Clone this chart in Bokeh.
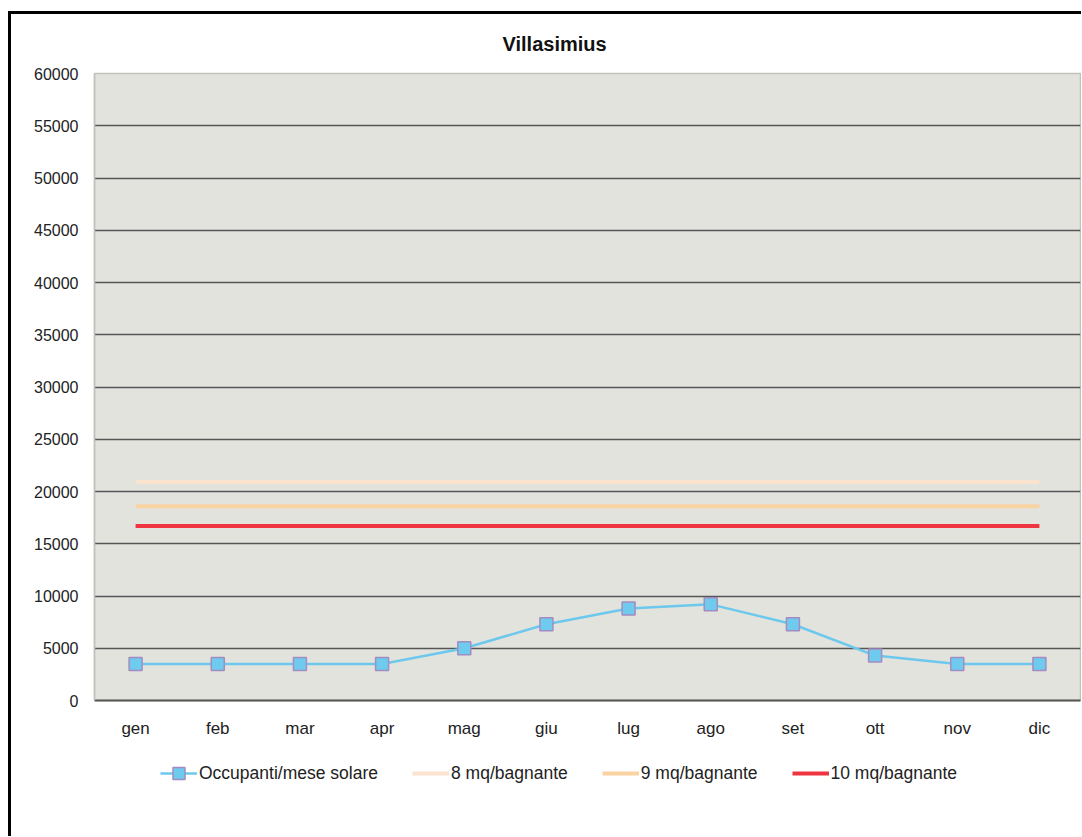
from bokeh.plotting import figure
from bokeh.models import FactorRange, Range1d, FixedTicker, Legend, LegendItem, ColumnDataSource
from bokeh.layouts import column
from bokeh.embed import file_html
from bokeh.resources import INLINE

months = ["gen", "feb", "mar", "apr", "mag", "giu", "lug", "ago", "set", "ott", "nov", "dic"]
occupanti = [3500, 3500, 3500, 3500, 5000, 7300, 8800, 9200, 7300, 4300, 3500, 3500]
mq8 = [20900] * 12
mq9 = [18600] * 12
mq10 = [16700] * 12
y_ticks = list(range(0, 60001, 5000))
labels = ["Occupanti/mese solare", "8 mq/bagnante", "9 mq/bagnante", "10 mq/bagnante"]

FONT = "Liberation Sans"
C_OCC, C_MARK, C_MARK_LINE = "#6cc8ec", "#6ecbee", "#a28cc2"
C8, C9, C10 = "#fbe4cf", "#f9d3a2", "#ee3540"

src = ColumnDataSource(dict(m=months, occ=occupanti, a=mq8, b=mq9, c=mq10))

p = figure(width=1070, height=736, x_range=FactorRange(*months, range_padding=0),
           y_range=Range1d(0, 60000), output_backend="svg", toolbar_location=None,
           min_border_left=83, min_border_top=59, min_border_right=1, min_border_bottom=50,
           background_fill_color="#e3e3de", border_fill_color="white")

p.title.text = "Villasimius"
p.title.align = "left"
p.title.offset = 408
p.title.vertical_align = "top"
p.title.standoff = 33
p.title.text_font = FONT
p.title.text_font_size = "20px"
p.title.text_font_style = "bold"
p.title.text_color = "#111111"

p.outline_line_color = "#c2c2bc"
p.outline_line_width = 1.5
p.xgrid.grid_line_color = None
p.ygrid.ticker = FixedTicker(ticks=y_ticks[1:-1])
p.ygrid.grid_line_color = "#555555"
p.ygrid.grid_line_width = 1.5

p.yaxis.ticker = FixedTicker(ticks=y_ticks)
p.yaxis.axis_line_color = "#c2c2bc"
p.yaxis.axis_line_width = 1.5
p.xaxis.axis_line_color = "#555555"
p.xaxis.axis_line_width = 2
for ax in (p.xaxis[0], p.yaxis[0]):
    ax.major_tick_line_color = None
    ax.minor_tick_line_color = None
    ax.major_tick_in = 0
    ax.major_tick_out = 0
    ax.major_label_text_font = FONT
    ax.major_label_text_color = "#222222"
p.yaxis.major_label_text_font_size = "16px"
p.xaxis.major_label_text_font_size = "17px"
p.yaxis.major_label_standoff = 16
p.xaxis.major_label_standoff = 18


def draw(fig):
    r8 = fig.line("m", "a", source=src, line_color=C8, line_width=4)
    r9 = fig.line("m", "b", source=src, line_color=C9, line_width=4)
    r10 = fig.line("m", "c", source=src, line_color=C10, line_width=4)
    rl = fig.line("m", "occ", source=src, line_color=C_OCC, line_width=2.5)
    rs = fig.scatter("m", "occ", source=src, marker="square", size=13, fill_color=C_MARK,
                     line_color=C_MARK_LINE, line_width=1.5)
    return [[rl, rs], [r8], [r9], [r10]]


draw(p)

# legend strip below the chart (its own copies of the series lie outside its y range)
p2 = figure(width=1070, height=86, x_range=FactorRange(*months, range_padding=0),
            y_range=Range1d(-2, -1), output_backend="svg", toolbar_location=None,
            min_border_left=0, min_border_right=0, min_border_top=0, min_border_bottom=0,
            x_axis_location=None, y_axis_location=None,
            background_fill_color="white", border_fill_color="white")
p2.outline_line_color = None
p2.grid.grid_line_color = None
rends = draw(p2)

legend = Legend(items=[LegendItem(label=l, renderers=r) for l, r in zip(labels, rends)],
                orientation="horizontal", location=(66, 48),
                background_fill_alpha=0, border_line_color=None,
                padding=0, margin=0, spacing=34, label_standoff=2,
                glyph_width=37, glyph_height=30,
                label_text_font=FONT, label_text_font_size="17.5px", label_text_color="#222222")
p2.add_layout(legend, "center")

layout = column(p, p2, spacing=0,
                styles={"border-left": "3px solid black", "border-top": "3px solid black",
                        "margin-top": "11px", "margin-left": "8px"})

open("out.html", "w").write(file_html(layout, INLINE))
